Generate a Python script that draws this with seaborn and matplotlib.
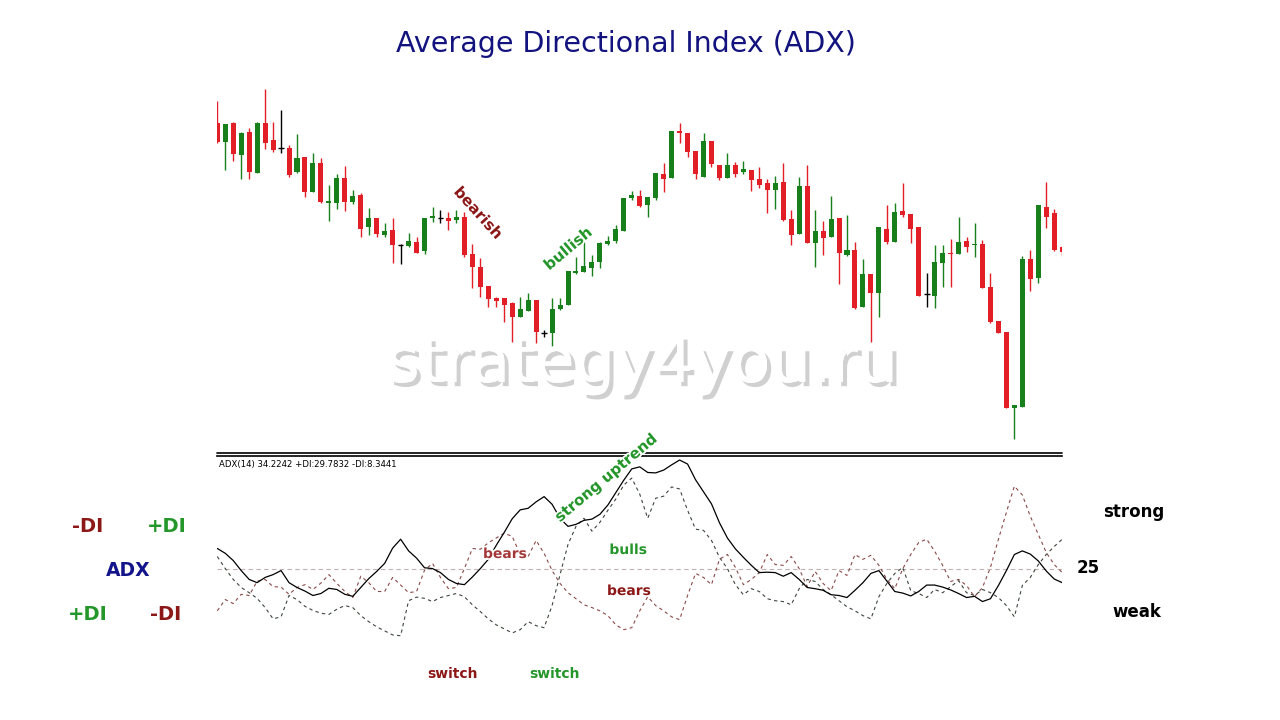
import numpy as np
import pandas as pd
import matplotlib
matplotlib.use("Agg")
import matplotlib.pyplot as plt
import matplotlib.patheffects as pe
import seaborn as sns

# candle data (price points), one entry per bar
opens = [477, 458, 477, 445, 468, 427, 477, 460, 452, 452,
         428, 443, 408, 437, 397, 397, 422, 398, 405, 373,
         382, 365, 370, 355, 354, 358, 349, 382, 382, 382,
         380, 383, 346, 333, 314, 302, 302, 297, 283, 289,
         300, 267, 267, 291, 295, 327, 328, 332, 338, 356,
         359, 369, 402, 404, 395, 402, 426, 422, 469, 467,
         449, 423, 459, 435, 422, 435, 428, 430, 421, 417,
         410, 418, 381, 366, 414, 357, 369, 363, 382, 345,
         350, 293, 326, 307, 371, 358, 389, 386, 373, 306,
         304, 337, 347, 346, 359, 355, 356, 313, 279, 268,
         192, 193, 341, 322, 393, 387, 353]
highs = [499, 476, 478, 468, 472, 478, 511, 478, 490, 455,
         466, 443, 447, 442, 415, 426, 434, 410, 407, 392,
         382, 377, 382, 356, 367, 363, 382, 393, 390, 388,
         390, 388, 356, 342, 314, 303, 302, 298, 303, 307,
         300, 270, 302, 302, 329, 343, 358, 345, 358, 364,
         375, 402, 409, 410, 403, 427, 437, 469, 477, 467,
         449, 467, 459, 435, 447, 438, 439, 430, 433, 421,
         424, 437, 390, 423, 435, 390, 379, 404, 382, 385,
         358, 341, 326, 373, 395, 397, 417, 386, 373, 327,
         355, 355, 361, 383, 363, 377, 360, 327, 279, 268,
         195, 344, 350, 395, 418, 391, 355]
lows = [457, 430, 439, 421, 421, 427, 451, 448, 447, 423,
        427, 403, 408, 397, 379, 391, 389, 396, 363, 365,
        363, 363, 337, 336, 353, 347, 346, 378, 377, 370,
        377, 343, 312, 303, 293, 293, 278, 258, 283, 289,
        257, 263, 250, 290, 295, 326, 328, 324, 332, 355,
        357, 369, 400, 393, 383, 400, 408, 422, 457, 443,
        421, 423, 433, 420, 422, 423, 426, 409, 412, 387,
        391, 379, 355, 366, 357, 333, 345, 363, 316, 344,
        291, 293, 258, 283, 356, 358, 383, 357, 304, 293,
        292, 313, 313, 346, 348, 343, 312, 277, 267, 192,
        161, 193, 309, 317, 372, 349, 344]
closes = [458, 476, 446, 467, 428, 477, 457, 450, 452, 425,
          442, 408, 437, 398, 399, 422, 398, 404, 371, 382,
          366, 369, 355, 355, 359, 347, 382, 384, 382, 379,
          383, 345, 333, 313, 301, 299, 295, 283, 291, 300,
          268, 267, 291, 295, 329, 329, 334, 338, 357, 359,
          371, 402, 405, 394, 403, 427, 421, 469, 467, 448,
          426, 459, 436, 422, 435, 426, 431, 420, 415, 410,
          417, 380, 365, 414, 357, 369, 362, 381, 347, 350,
          292, 326, 307, 373, 358, 388, 385, 371, 304, 306,
          338, 347, 346, 358, 353, 356, 312, 278, 267, 192,
          195, 341, 321, 395, 383, 350, 348]

# indicator values ADX(14), +DI, -DI
adx = [30.0, 28.8, 27.0, 24.5, 22.3, 21.5, 22.8, 23.5, 24.5, 21.5,
       20.3, 19.4, 18.3, 18.8, 20.1, 19.8, 18.6, 18.1, 20.3, 22.5,
       24.3, 26.3, 30.1, 32.3, 29.4, 27.6, 25.2, 25.0, 24.0, 22.3,
       21.3, 21.0, 22.9, 25.0, 27.3, 30.8, 34.0, 37.4, 39.6, 40.0,
       41.6, 42.9, 41.0, 37.5, 35.5, 36.0, 37.0, 37.3, 38.5, 40.8,
       43.9, 47.0, 49.8, 50.3, 48.9, 48.8, 49.5, 50.8, 52.0, 51.0,
       47.1, 44.1, 41.1, 36.4, 32.6, 29.9, 27.8, 25.8, 24.0, 24.1,
       24.0, 23.1, 24.0, 22.3, 20.3, 20.0, 19.6, 18.5, 18.3, 17.8,
       19.6, 21.5, 23.8, 24.5, 21.9, 19.3, 18.9, 18.2, 19.3, 20.9,
       20.9, 20.4, 19.7, 18.8, 17.8, 18.1, 16.8, 17.5, 20.8, 24.5,
       28.5, 29.4, 28.6, 26.9, 24.4, 22.4, 21.5]
plus_di = [28.0, 25.0, 22.3, 20.3, 19.0, 17.6, 15.3, 12.5, 13.0, 18.3,
           17.3, 15.6, 14.6, 13.9, 13.6, 14.9, 15.8, 15.3, 13.3, 11.8,
           10.5, 9.5, 8.5, 8.3, 17.0, 17.9, 17.6, 16.8, 17.8, 18.3,
           18.8, 18.0, 16.0, 14.3, 12.5, 11.0, 10.0, 9.0, 9.8, 11.8,
           10.8, 10.3, 15.8, 23.5, 31.0, 35.5, 37.5, 34.3, 36.5, 39.5,
           42.3, 45.8, 47.5, 43.5, 37.5, 42.5, 43.0, 45.3, 44.8, 39.5,
           34.8, 34.5, 32.0, 27.8, 25.0, 21.0, 18.5, 20.0, 19.3, 17.5,
           17.0, 16.8, 16.0, 20.0, 22.3, 21.8, 19.8, 18.5, 17.0, 15.5,
           14.5, 13.3, 12.5, 18.0, 21.3, 23.8, 25.3, 19.5, 18.8, 17.8,
           19.8, 19.0, 20.5, 22.0, 19.0, 18.3, 19.8, 19.0, 17.8, 15.8,
           13.0, 20.8, 22.8, 26.0, 28.5, 30.5, 32.3]
minus_di = [14.5, 17.3, 16.3, 18.6, 18.3, 21.9, 22.3, 20.5, 20.4, 18.6,
            20.3, 21.0, 19.8, 21.4, 23.5, 21.3, 19.3, 17.8, 23.1, 21.5,
            19.3, 19.3, 22.8, 20.9, 19.0, 19.3, 24.6, 26.3, 22.8, 20.0,
            20.3, 25.0, 30.0, 29.8, 31.4, 32.6, 33.8, 33.0, 28.5, 28.0,
            32.0, 28.8, 24.5, 21.3, 19.0, 17.5, 16.0, 15.3, 14.5, 13.3,
            11.0, 9.8, 10.3, 14.5, 18.0, 15.8, 14.5, 13.0, 12.3, 18.3,
            23.8, 22.8, 21.0, 27.3, 28.5, 25.3, 21.0, 22.3, 24.0, 28.5,
            26.0, 25.8, 28.0, 25.0, 20.5, 24.3, 21.3, 19.5, 24.5, 23.3,
            28.5, 27.3, 28.3, 25.8, 22.3, 20.0, 25.0, 28.5, 31.5, 32.3,
            29.3, 25.8, 21.8, 22.3, 20.8, 18.0, 20.3, 25.3, 32.3, 39.0,
            45.5, 43.3, 38.0, 33.5, 29.0, 26.0, 24.0]
level = 25

sns.set_style("white")
plt.rcParams['font.family'] = ['DejaVu Sans']

W, H = 1280, 720
fig = plt.figure(figsize=(12.8, 7.2), dpi=100)
fig.patch.set_facecolor('white')

def fx(px):
    return px / W

def fy(py):
    return 1 - py / H

x_left, x_right = 217.3, 1062.2
ax_w = fx(x_right) - fx(x_left)

# price panel
ax1 = fig.add_axes([fx(x_left), fy(452), ax_w, (452 - 72) / H])
ax1.set_axis_off()
n = len(opens)
idx = np.arange(1, n + 1)
o = np.array(opens, float)
c = np.array(closes, float)
hi = np.array(highs, float)
lo = np.array(lows, float)

RED, GREEN = '#e21f26', '#17801a'
cols = np.where(c > o, GREEN, np.where(c < o, RED, 'black'))
ax1.vlines(idx, lo, hi, colors=cols, linewidth=1.0)
ax1.bar(idx, np.abs(c - o), bottom=np.minimum(o, c), width=0.63,
        color=cols, linewidth=0)
doji = c == o
ax1.hlines(o[doji], idx[doji] - 0.36, idx[doji] + 0.36, colors='black', linewidth=1.0)
ax1.set_xlim(1, n)
ax1.set_ylim(148, 528)

# indicator panel
ax2 = fig.add_axes([fx(x_left), fy(650), ax_w, (650 - 456) / H])
df = pd.DataFrame({'bar': idx, 'ADX': adx, '+DI': plus_di, '-DI': minus_di})
sns.lineplot(data=df, x='bar', y='+DI', ax=ax2, color='#3c463c', linewidth=0.8)
ax2.lines[-1].set_dashes([3, 3])
sns.lineplot(data=df, x='bar', y='-DI', ax=ax2, color='#8a4a48', linewidth=0.8)
ax2.lines[-1].set_dashes([3, 3])
sns.lineplot(data=df, x='bar', y='ADX', ax=ax2, color='black', linewidth=0.9)
ax2.axhline(level, color='#c4b0b0', linewidth=0.8, dashes=(4, 3), zorder=0)
ax2.set_xlim(1, n)
ax2.set_ylim(4.75, 53)
ax2.set_xlabel('')
ax2.set_ylabel('')
ax2.set_xticks([])
ax2.set_yticks([])
for s in ['left', 'right', 'bottom']:
    ax2.spines[s].set_visible(False)
ax2.spines['top'].set_color('black')
ax2.spines['top'].set_linewidth(1.2)
ax2.plot([0, 1], [1.014, 1.014], transform=ax2.transAxes, color='black',
         linewidth=1.2, clip_on=False)
ax2.text(0.002, 0.955, 'ADX(14) 34.2242 +DI:29.7832 -DI:8.3441',
         transform=ax2.transAxes, fontsize=6.1, color='black', va='center', ha='left')

# title
fig.text(fx(626), fy(44), 'Average Directional Index (ADX)', fontsize=20.5,
         color='#13137f', ha='center', va='center')

# watermark
fig.text(fx(642), fy(364), 'strategy4you.ru', fontsize=46, color='white',
         ha='center', va='center', zorder=10,
         path_effects=[pe.withSimplePatchShadow(offset=(3, -3), shadow_rgbFace='#8a8a8a', alpha=0.4),
                       pe.Normal()])

DRED, LGREEN, NAVY = '#8c1717', '#24962a', '#14148a'
halo = [pe.withStroke(linewidth=2.5, foreground='white')]

# annotations on chart
fig.text(fx(478), fy(213), 'bearish', fontsize=11, fontweight='bold', color=DRED,
         rotation=-48, ha='center', va='center', path_effects=halo)
fig.text(fx(568), fy(249), 'bullish', fontsize=11, fontweight='bold', color=LGREEN,
         rotation=40, ha='center', va='center', path_effects=halo)
fig.text(fx(606), fy(478), 'strong uptrend', fontsize=10.8, fontweight='bold', color=LGREEN,
         rotation=40, ha='center', va='center', path_effects=halo)
fig.text(fx(505), fy(554), 'bears', fontsize=10, fontweight='bold', color='#a43838',
         ha='center', va='center', path_effects=halo)
fig.text(fx(628), fy(550), 'bulls', fontsize=10, fontweight='bold', color=LGREEN,
         ha='center', va='center', path_effects=halo)
fig.text(fx(629), fy(591), 'bears', fontsize=10, fontweight='bold', color=DRED,
         ha='center', va='center', path_effects=halo)
fig.text(fx(453), fy(674), 'switch', fontsize=10, fontweight='bold', color=DRED,
         ha='center', va='center')
fig.text(fx(554), fy(674), 'switch', fontsize=10, fontweight='bold', color=LGREEN,
         ha='center', va='center')

# legend-like labels on the left
fig.text(fx(88), fy(527), '-DI', fontsize=14, fontweight='bold', color=DRED, ha='center', va='center')
fig.text(fx(167), fy(527), '+DI', fontsize=14, fontweight='bold', color=LGREEN, ha='center', va='center')
fig.text(fx(128), fy(570), 'ADX', fontsize=13.5, fontweight='bold', color=NAVY, ha='center', va='center')
fig.text(fx(88), fy(614), '+DI', fontsize=14, fontweight='bold', color=LGREEN, ha='center', va='center')
fig.text(fx(166), fy(614), '-DI', fontsize=14, fontweight='bold', color=DRED, ha='center', va='center')

# right side labels
fig.text(fx(1134), fy(512), 'strong', fontsize=12, fontweight='bold', color='black', ha='center', va='center')
fig.text(fx(1088), fy(568), str(level), fontsize=12, fontweight='bold', color='black', ha='center', va='center')
fig.text(fx(1137), fy(612), 'weak', fontsize=12, fontweight='bold', color='black', ha='center', va='center')

fig.savefig('out.png', dpi=100, facecolor='white')
